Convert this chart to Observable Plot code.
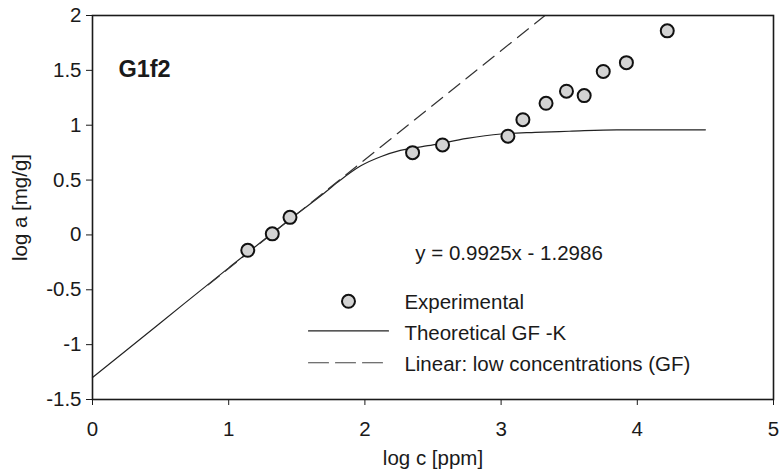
<!DOCTYPE html>
<html><head><meta charset="utf-8">
<script src="https://cdn.jsdelivr.net/npm/d3@7"></script>
<script src="https://cdn.jsdelivr.net/npm/@observablehq/plot@0.6"></script>
<style>body{margin:0;background:#fff}</style>
</head><body><div id="chart"></div>
<script>
// Experimental points
const expLogC = [1.14, 1.32, 1.45, 2.35, 2.57, 3.05, 3.16, 3.33, 3.48, 3.61, 3.75, 3.92, 4.22];
const expLogA = [-0.14, 0.01, 0.16, 0.75, 0.82, 0.90, 1.05, 1.20, 1.31, 1.27, 1.49, 1.57, 1.86];
// Theoretical GF-K curve
const theoLogC = [0, 0.5, 1.0, 1.5, 1.7, 1.82, 1.97, 2.12, 2.26, 2.5, 2.75, 3.0, 3.25, 3.5, 3.85, 4.5];
const theoLogA = [-1.30, -0.80, -0.30, 0.19, 0.38, 0.50, 0.63, 0.715, 0.77, 0.82, 0.88, 0.92, 0.935, 0.945, 0.958, 0.958];
// Linear fit at low concentrations (dashed)
const linLogC = [0.85, 3.32];
const linLogA = [-0.455, 1.997];
// Axes
const xTicks = [0, 1, 2, 3, 4, 5];
const yTicks = [-1.5, -1, -0.5, 0, 0.5, 1, 1.5, 2];
const xLabel = "log c [ppm]";
const yLabel = "log a [mg/g]";
// Texts
const panelLabel = "G1f2";
const equationText = "y = 0.9925x - 1.2986";
const legendLabels = ["Experimental", "Theoretical GF -K", "Linear: low concentrations (GF)"];

const exp = expLogC.map((c, i) => ({c, a: expLogA[i]}));
const theo = theoLogC.map((c, i) => ({c, a: theoLogA[i]}));
const lin = linLogC.map((c, i) => ({c, a: linLogA[i]}));

// layout (annotation anchors in data units)
const legSymX = [1.586, 2.173];
const legTextX = 2.29;
const legRows = [-0.615, -0.895, -1.18];
const fmt = d => String(d);

const ink = "#1a1a1a";
const chart = Plot.plot({
  width: 781, height: 470,
  marginLeft: 92, marginRight: 8, marginTop: 15, marginBottom: 71,
  style: {fontFamily: "'Liberation Sans', Arial, sans-serif", fontSize: "20.5px", color: ink, background: "#fff"},
  x: {domain: [0, 5]},
  y: {domain: [-1.5, 2]},
  marks: [
    Plot.axisX({ticks: xTicks, tickSize: 6, tickPadding: 16, tickFormat: fmt, label: xLabel,
      labelAnchor: "center", labelArrow: "none", labelOffset: 65}),
    Plot.axisY({ticks: yTicks, tickSize: 6, tickPadding: 5, tickFormat: fmt, label: yLabel,
      labelAnchor: "center", labelArrow: "none", labelOffset: 80}),
    Plot.line(theo, {x: "c", y: "a", stroke: "#222", strokeWidth: 1.2, curve: "monotone-x"}),
    Plot.line(lin, {x: "c", y: "a", stroke: "#333", strokeWidth: 1.2, strokeDasharray: "14,8"}),
    Plot.dot(exp, {x: "c", y: "a", r: 6.5, fill: "#d3d3d3", stroke: "#111", strokeWidth: 2}),
    Plot.frame({stroke: ink, strokeWidth: 1.6}),
    Plot.text([panelLabel], {x: 0.19, y: 1.51, text: d => d, textAnchor: "start", lineAnchor: "middle",
      fontSize: 23.5, fontWeight: "bold"}),
    Plot.text([equationText], {x: 2.37, y: -0.165, text: d => d, textAnchor: "start", lineAnchor: "middle"}),
    // legend
    Plot.dot([legendLabels[0]], {x: (legSymX[0] + legSymX[1]) / 2, y: legRows[0] + 0.01, r: 6.5, fill: "#d3d3d3", stroke: "#111", strokeWidth: 2}),
    Plot.line(legSymX.map(c => ({c, a: legRows[1] + 0.02})), {x: "c", y: "a", stroke: "#222", strokeWidth: 1.2}),
    Plot.line(legSymX.map(c => ({c, a: legRows[2] + 0.015})), {x: "c", y: "a", stroke: "#444", strokeWidth: 1.2, strokeDasharray: "20,7"}),
    Plot.text(legendLabels, {x: legTextX, y: (d, i) => legRows[i], text: d => d, textAnchor: "start", lineAnchor: "middle"})
  ]
});
document.getElementById("chart").append(chart);
</script>
</body></html>
